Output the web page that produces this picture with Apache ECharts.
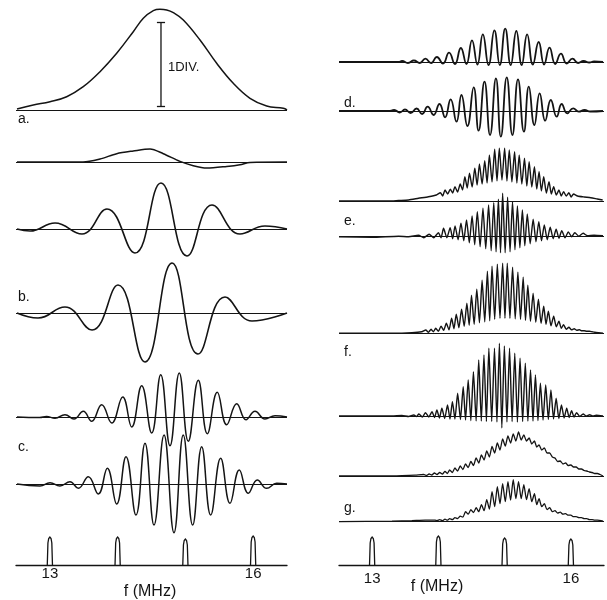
<!DOCTYPE html>
<html><head><meta charset="utf-8">
<script src="https://cdn.jsdelivr.net/npm/echarts@6/dist/echarts.min.js"></script>
<style>html,body{margin:0;padding:0;background:#fff}#c{width:607px;height:600px}</style>
</head><body><div id="c"></div>
<script>
// ---- DATA: [frequency (MHz), amplitude (arb. units, up = positive)] ----
const traceA  = [[12.515,1],[12.755,5],[13.002,8.3],[13.248,13.3],[13.493,23.3],[13.740,38.3],[13.986,56.7],[14.231,78.3],[14.379,91.7],[14.527,99.3],[14.625,100.7],[14.724,100],[14.822,97.3],[14.970,90],[15.216,70],[15.462,46.7],[15.707,26.7],[15.954,11.7],[16.200,4],[16.445,1.7],[16.5,0]];
const divBar  = [[14.64,88],[14.64,4]];
const traceA2 = [[12.515,0],[13.489,0],[13.740,3],[13.986,8.3],[14.231,11],[14.478,13],[14.674,8.3],[14.921,0.6],[15.117,-3.7],[15.315,-6],[15.610,-4.4],[15.806,-2.7],[15.954,-0.4],[16.5,0]];
const traceB1 = [[12.515,0],[12.707,-2],[13.076,6],[13.474,-5],[13.843,20],[14.256,-24],[14.640,46],[15.024,-27],[15.393,24],[15.806,-5],[16.175,3],[16.5,0]];
const traceB2 = [[12.515,0],[12.825,-5],[13.223,6],[13.622,-17],[14.006,28],[14.404,-49],[14.803,50],[15.186,-41],[15.585,16],[15.983,-8],[16.5,0]];
const traceC1 = [[12.515,0],[12.85,-0.5],[12.95,0.5],[13.076,-1.3],[13.223,2.3],[13.356,-2],[13.493,5.7],[13.617,-4.3],[13.765,12.3],[13.913,-6],[14.075,20],[14.208,-10],[14.355,31.3],[14.503,-16],[14.636,42.3],[14.773,-28.7],[14.910,44],[15.043,-24.3],[15.191,36.7],[15.324,-16.7],[15.471,24.7],[15.610,-7.7],[15.758,13.3],[15.895,-2.7],[16.028,5.7],[16.175,-2],[16.323,1.3],[16.5,0]];
const traceC2 = [[12.515,0],[12.854,-2],[13.002,1.3],[13.149,-2],[13.297,2.3],[13.420,-4.3],[13.567,7.3],[13.715,-10],[13.848,15.7],[13.986,-20],[14.124,27.3],[14.271,-31],[14.404,40.7],[14.537,-41],[14.685,49],[14.832,-48.7],[14.969,49],[15.108,-41],[15.241,37.3],[15.374,-31],[15.521,25.7],[15.659,-19.3],[15.796,14],[15.929,-9.3],[16.062,4],[16.200,-4.3],[16.348,0.7],[16.5,0]];

const traceD1 = [[12.5,0],[13.40,0],[13.452,1],[13.541,-1],[13.630,1.5],[13.719,-1],[13.804,3.3],[13.890,-1],[13.977,5],[14.069,-1.5],[14.161,9.3],[14.250,-2],[14.339,14],[14.423,-2],[14.507,21.7],[14.589,-2.5],[14.671,27.7],[14.757,-3],[14.845,31.7],[14.927,-3],[15.009,33.3],[15.092,-3],[15.177,31],[15.258,-3],[15.340,27.7],[15.426,-2.5],[15.514,20],[15.596,-2.5],[15.678,14.3],[15.764,-2],[15.850,8.3],[15.938,-1.5],[16.024,3.3],[16.109,-1],[16.192,1],[16.277,-0.5],[16.35,0.5],[16.485,0]];
const traceD2 = [[12.5,0],[13.25,0],[13.333,1],[13.417,-1.5],[13.496,1.5],[13.581,-2],[13.670,2.5],[13.754,-3],[13.838,4.3],[13.928,-4],[14.017,7],[14.101,-6.3],[14.185,11.7],[14.274,-10.7],[14.348,16],[14.438,-15],[14.533,23.7],[14.607,-19.7],[14.696,29.3],[14.780,-24],[14.869,32.7],[14.943,-25.7],[15.032,33.7],[15.117,-24],[15.202,31.7],[15.291,-20.7],[15.365,24.3],[15.449,-14],[15.529,17.7],[15.612,-9.7],[15.697,11],[15.786,-5.7],[15.861,7],[15.945,-2.3],[16.035,2.7],[16.118,-0.7],[16.207,1],[16.292,-0.5],[16.485,0]];
const traceE1 = [[12.5,0],[13.25,0],[13.4,0.5],[13.55,1],[13.70,2.7],[13.85,4.3],[13.97,6],[14.03,8.3],[14.065,5],[14.10,11],[14.14,7],[14.18,11.7],[14.215,8],[14.25,14.3],[14.29,9],[14.33,17],[14.365,11],[14.40,24.3],[14.435,13],[14.47,27.7],[14.51,14],[14.55,32.7],[14.585,16],[14.62,37],[14.66,17],[14.70,40.3],[14.735,18],[14.77,46],[14.81,19],[14.85,51.7],[14.885,20],[14.92,52.7],[14.96,21],[15.00,52.7],[15.035,20],[15.07,51],[15.11,19],[15.15,49.3],[15.185,18],[15.22,46],[15.26,17],[15.30,42.7],[15.335,15],[15.37,39.3],[15.41,14],[15.45,34.3],[15.485,12],[15.52,29.3],[15.555,10],[15.59,24.3],[15.63,8],[15.67,19.3],[15.705,7],[15.74,14.3],[15.78,6],[15.82,11],[15.855,5],[15.89,9.3],[15.93,5],[15.97,8.3],[16.005,4],[16.04,7],[16.10,5],[16.20,4],[16.30,3.3],[16.40,2],[16.48,1]];
const traceE2 = [[12.5,0],[13.0,-0.5],[13.4,0.5],[13.55,0],[13.70,1.5],[13.78,-1],[13.86,2.5],[13.93,-1],[14.0,4],[14.04,-1],[14.078,8.4],[14.128,-1],[14.178,9],[14.215,-2],[14.252,10.7],[14.297,-3],[14.341,13.4],[14.383,-4],[14.425,16.7],[14.467,-6],[14.509,20.7],[14.548,-8],[14.588,25],[14.630,-10],[14.673,28.4],[14.715,-12],[14.758,31.7],[14.797,-14],[14.836,34],[14.871,-15],[14.906,37.4],[14.938,-16],[14.970,43.4],[15.008,-16],[15.045,39.4],[15.082,-15],[15.119,35],[15.156,-13],[15.193,30.7],[15.230,-11],[15.268,26.7],[15.305,-9],[15.342,22.7],[15.386,-7],[15.431,17.4],[15.473,-5],[15.516,15],[15.557,-4],[15.599,11.7],[15.643,-3],[15.688,9.4],[15.733,-2],[15.778,7.4],[15.820,-1.5],[15.862,6],[15.912,-1],[15.962,4.7],[16.011,0],[16.060,4],[16.12,0.5],[16.185,3.4],[16.25,1],[16.35,1.5],[16.485,1]];
const traceF1 = [[12.5,0],[13.3,0],[13.6,0.5],[13.75,1.5],[13.81,3.3],[13.85,1],[13.89,4],[13.925,1.5],[13.96,5],[14.0,2],[14.04,7],[14.08,3],[14.12,10],[14.16,3.5],[14.20,15],[14.235,4.5],[14.27,19],[14.31,5.5],[14.35,24],[14.39,7],[14.43,30],[14.465,8],[14.50,38],[14.54,9],[14.58,44],[14.62,10.5],[14.66,53],[14.70,11.5],[14.74,62],[14.775,12.5],[14.81,67],[14.85,14],[14.89,69],[14.93,15],[14.97,70],[15.005,15],[15.04,70],[15.08,15],[15.12,66],[15.16,14.5],[15.20,61],[15.24,14],[15.28,56],[15.315,13],[15.35,48],[15.39,12],[15.43,40],[15.47,11],[15.51,34],[15.55,10],[15.59,27],[15.625,9],[15.66,22],[15.70,7.5],[15.74,17],[15.78,6.5],[15.82,12],[15.855,5],[15.89,8.5],[15.93,4],[15.97,6],[16.01,3.5],[16.05,4.5],[16.09,3],[16.13,3.5],[16.165,2.5],[16.20,2.5],[16.24,2],[16.28,2],[16.32,1.5],[16.36,1],[16.42,0.5],[16.485,0]];
const traceF2 = [[12.5,0],[13.3,0],[13.45,0.5],[13.55,-0.5],[13.63,1],[13.67,-0.5],[13.706,2],[13.756,-1],[13.806,3.3],[13.855,-1],[13.904,4.3],[13.941,-1.5],[13.978,6],[14.015,-2],[14.053,7.7],[14.095,-2.5],[14.138,11],[14.175,-3],[14.212,14.3],[14.25,-3],[14.291,22.7],[14.333,-3.5],[14.375,29.3],[14.41,-4],[14.450,36],[14.49,-4.5],[14.529,44.3],[14.57,-5],[14.609,56],[14.648,-5],[14.688,61],[14.725,-5.5],[14.762,67.7],[14.805,-5.5],[14.847,67.7],[14.884,-6],[14.921,72.7],[14.958,-12],[14.996,70],[15.035,-6],[15.074,67.7],[15.113,-5.5],[15.153,62.7],[15.193,-6],[15.233,57.7],[15.272,-5.5],[15.312,52.7],[15.351,-5],[15.391,46],[15.428,-5],[15.465,41],[15.503,-4.5],[15.540,32.7],[15.58,-4],[15.620,31],[15.66,-3.5],[15.699,26],[15.738,-3],[15.778,17.7],[15.818,-2.5],[15.858,11],[15.898,-2],[15.937,7.7],[15.974,-1.5],[16.011,5.3],[16.048,-1],[16.086,3.3],[16.135,-0.5],[16.185,2],[16.234,0],[16.283,1.3],[16.333,0],[16.383,0.7],[16.485,0]];
const traceG1 = [[12.5,0],[13.2,0],[13.45,0.3],[13.65,0.8],[13.78,1.5],[13.82,0.5],[13.86,2],[13.90,1],[13.94,3],[13.98,1.5],[14.02,3.5],[14.06,2],[14.10,4.5],[14.135,2.5],[14.17,6],[14.21,3.5],[14.25,8],[14.29,5],[14.33,10],[14.37,6.5],[14.41,12],[14.45,8.5],[14.49,14.5],[14.53,10.5],[14.57,18],[14.61,13],[14.65,21],[14.69,16],[14.73,25],[14.77,19],[14.81,29.5],[14.85,23],[14.89,33],[14.93,26],[14.97,37],[15.01,30],[15.05,40],[15.09,33],[15.13,42],[15.17,35],[15.21,44],[15.25,36],[15.29,41],[15.33,35],[15.37,38],[15.41,32],[15.45,35],[15.485,29],[15.52,31],[15.56,26],[15.60,28],[15.64,23],[15.68,23],[15.72,19],[15.76,18],[15.80,14.5],[15.84,15],[15.88,12],[15.92,13],[15.96,10.5],[16.00,11],[16.04,9],[16.08,9],[16.12,7],[16.16,7],[16.20,5.5],[16.24,5],[16.28,4],[16.32,3.5],[16.36,2.5],[16.40,2.5],[16.44,1.5],[16.485,0]];
const traceG2 = [[12.5,0],[13.3,0.5],[13.6,1],[13.8,1.5],[13.95,1.5],[13.98,1],[14.02,2],[14.06,1],[14.10,2.5],[14.135,1.5],[14.17,3],[14.21,2],[14.25,4],[14.29,3],[14.33,5.5],[14.37,4.5],[14.41,10],[14.45,7.5],[14.49,12],[14.53,9],[14.57,14],[14.61,10],[14.65,17],[14.69,11],[14.73,22],[14.77,12.5],[14.81,30],[14.85,15],[14.89,35],[14.93,18],[14.97,38],[15.01,20],[15.05,40],[15.09,21.5],[15.13,42],[15.17,23],[15.21,40],[15.25,23],[15.29,37],[15.33,22],[15.37,33],[15.41,20],[15.45,28],[15.485,17],[15.52,23],[15.56,15],[15.60,18],[15.64,12],[15.68,14],[15.72,10],[15.76,11],[15.80,8.5],[15.84,9.5],[15.88,7.5],[15.92,8],[15.96,6.5],[16.00,6.5],[16.04,5],[16.08,5],[16.12,4],[16.16,4],[16.20,3],[16.24,3],[16.28,2],[16.32,2],[16.36,1.5],[16.40,1.5],[16.485,0.5]];

const markerFreq = [13, 14, 15, 16];
const markerHeightLeft = [28, 28, 26, 29];
const markerHeightRight = [28, 29, 27, 26];
const tickLabels = ['13', '16'];
const panelLabelsLeft = ['a.', 'b.', 'c.'];
const panelLabelsRight = ['d.', 'e.', 'f.', 'g.'];
const axisTitle = 'f (MHz)';
const divLabel = '1DIV.';

// ---- LAYOUT ----
const INK = '#141414';
const FONT = '"Liberation Sans", "DejaVu Sans", sans-serif';
const base = {A:455, A2:403, B1:336, B2:252, C1:148, C2:81,
              D1:503, D2:454, E1:364, E2:328.3, F1:231.7, F2:149, G1:89, G2:43.3};

function shift(arr, off){ return arr.map(p => [p[0], p[1] + off]); }
function trace(data, off, axis, smooth, width){
  return {type:'line', xAxisIndex:axis, yAxisIndex:axis, data:shift(data, off),
    symbol:'none', smooth:smooth, animation:false, silent:true,
    lineStyle:{color:INK, width:width},
    markLine:{silent:true, symbol:'none', animation:false, label:{show:false},
      lineStyle:{color:INK, width:1.1, type:'solid'}, data:[{yAxis:off}]}};
}
function pulse(params, api){
  const f = api.value(0), h = api.value(1);
  const b = api.coord([f, 0]), t = api.coord([f, h]);
  const w = 2.6;
  return {type:'polyline', shape:{points:[[b[0]-w,b[1]],[b[0]-w*0.75,t[1]+6],[b[0]-w*0.45,t[1]+1.5],[b[0],t[1]],[b[0]+w*0.45,t[1]+1.5],[b[0]+w*0.75,t[1]+6],[b[0]+w,b[1]]]},
    style:{stroke:INK, lineWidth:1.3, fill:null}};
}
function xAx(idx, margin){
  return {gridIndex:idx, type:'value', min:12.5, max:16.5, interval:0.5,
    axisLine:{show:true, lineStyle:{color:INK, width:1.3}}, axisTick:{show:false}, splitLine:{show:false},
    axisLabel:{margin:margin, fontSize:15, color:INK, fontFamily:FONT, showMinLabel:true, showMaxLabel:true,
      formatter:v => (v === 13 ? tickLabels[0] : v === 16 ? tickLabels[1] : '')}};
}
function txt(x, y, s, size, align){
  return {type:'text', x:x, y:y, silent:true,
    style:{text:s, font:size + 'px ' + FONT, fill:INK, textAlign:align || 'left', textVerticalAlign:'middle'}};
}

const chart = echarts.init(document.getElementById('c'), null, {renderer:'canvas'});
chart.setOption({
  backgroundColor:'#fff', animation:false,
  grid:[{left:16, top:0, width:271, height:565}, {left:339, top:0, width:269, height:565}],
  xAxis:[xAx(0, 1), xAx(1, 6)],
  yAxis:[{gridIndex:0, type:'value', min:0, max:565, show:false}, {gridIndex:1, type:'value', min:0, max:565, show:false}],
  series:[
    trace(traceA, base.A, 0, 0.4, 1.5),
    {type:'line', xAxisIndex:0, yAxisIndex:0, data:shift(divBar, base.A), symbol:'none', animation:false, silent:true,
      lineStyle:{color:INK, width:1.3},
      markLine:{silent:true, symbol:'none', animation:false, label:{show:false}, lineStyle:{color:INK, width:1.3, type:'solid'},
        data: divBar.map(p => [{coord:[p[0]-0.06, p[1]+base.A]}, {coord:[p[0]+0.06, p[1]+base.A]}])}},
    trace(traceA2, base.A2, 0, 0.3, 1.5),
    trace(traceB1, base.B1, 0, 0.45, 1.6),
    trace(traceB2, base.B2, 0, 0.45, 1.6),
    trace(traceC1, base.C1, 0, 0.45, 1.5),
    trace(traceC2, base.C2, 0, 0.45, 1.5),
    {type:'custom', xAxisIndex:0, yAxisIndex:0, renderItem:pulse, animation:false, silent:true,
      data: markerFreq.map((f, i) => [f, markerHeightLeft[i]])},
    trace(traceD1, base.D1, 1, 0.5, 1.8),
    trace(traceD2, base.D2, 1, 0.5, 1.8),
    trace(traceE1, base.E1, 1, 0.2, 1.4),
    trace(traceE2, base.E2, 1, 0.2, 1.4),
    trace(traceF1, base.F1, 1, 0.2, 1.4),
    trace(traceF2, base.F2, 1, 0.2, 1.4),
    trace(traceG1, base.G1, 1, 0.2, 1.3),
    trace(traceG2, base.G2, 1, 0.2, 1.3),
    {type:'custom', xAxisIndex:1, yAxisIndex:1, renderItem:pulse, animation:false, silent:true,
      data: markerFreq.map((f, i) => [f, markerHeightRight[i]])}
  ],
  graphic:[
    txt(168, 67, divLabel, 13),
    txt(18, 119, panelLabelsLeft[0], 14),
    txt(18, 297, panelLabelsLeft[1], 14),
    txt(18, 447, panelLabelsLeft[2], 14),
    txt(344, 103, panelLabelsRight[0], 14),
    txt(344, 221, panelLabelsRight[1], 14),
    txt(344, 352, panelLabelsRight[2], 14),
    txt(344, 508, panelLabelsRight[3], 14),
    txt(150, 592, axisTitle, 16, 'center'),
    txt(437, 587, axisTitle, 16, 'center')
  ]
});
</script></body></html>
